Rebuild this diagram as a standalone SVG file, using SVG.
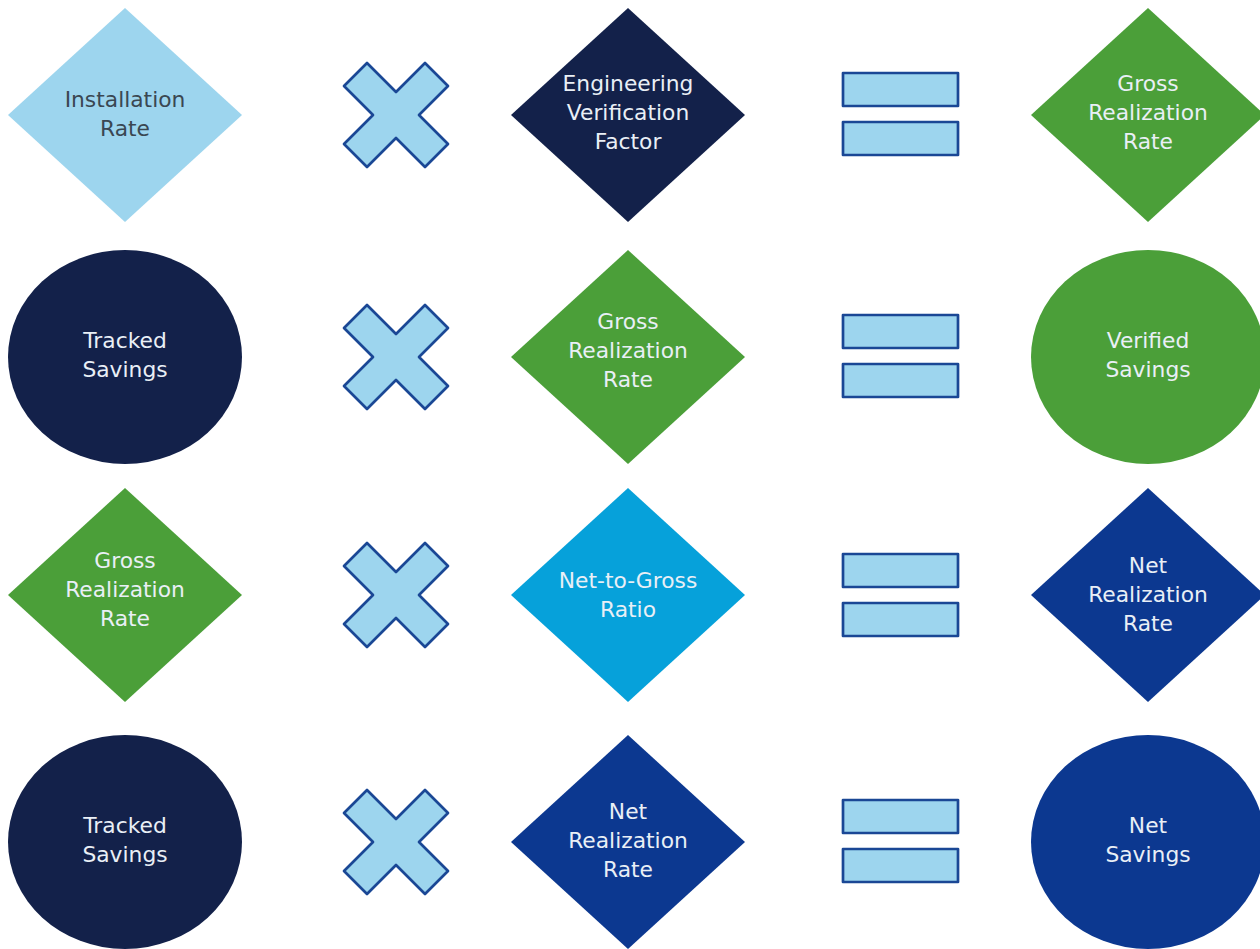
<svg xmlns="http://www.w3.org/2000/svg" width="1260" height="949" viewBox="0 0 1260 949">
<style>
text{font-family:"DejaVu Sans","Liberation Sans",sans-serif;font-size:21.8px;text-anchor:middle;fill:#e9eff6}
.dk{fill:#3a4752}
.lb{fill:#9dd5ee}
.nv{fill:#13214a}
.gr{fill:#4b9f39}
.cy{fill:#06a1da}
.bl{fill:#0c3890}
.op{fill:#9dd5ee;stroke:#1a4795;stroke-width:2.7;stroke-linejoin:round}
</style>
<defs>
<polygon id="dia" points="0,-107 117,0 0,107 -117,0"/>
<polygon id="times" points="0,-23 29,-52 52,-29 23,0 52,29 29,52 0,23 -29,52 -52,29 -23,0 -52,-29 -29,-52"/>
<g id="eq"><rect x="-57" y="-41" width="115" height="33"/><rect x="-57" y="8" width="115" height="33"/></g>
</defs>
<rect width="1260" height="949" fill="#ffffff"/>
<g id="connectors">
<use href="#times" class="op" x="396" y="115"/>
<use href="#times" class="op" x="396" y="357"/>
<use href="#times" class="op" x="396" y="595"/>
<use href="#times" class="op" x="396" y="842"/>
<use href="#eq" class="op" x="900" y="114"/>
<use href="#eq" class="op" x="900" y="356"/>
<use href="#eq" class="op" x="900" y="595"/>
<use href="#eq" class="op" x="900" y="841"/>
</g>
<g id="installation-rate"><use href="#dia" class="lb" x="125" y="115"/><text class="dk" x="125" y="107">Installation</text><text class="dk" x="125" y="136">Rate</text></g>
<g id="engineering-verification-factor"><use href="#dia" class="nv" x="628" y="115"/><text x="628" y="91">Engineering</text><text x="628" y="120">Verification</text><text x="628" y="149">Factor</text></g>
<g id="gross-realization-rate-1"><use href="#dia" class="gr" x="1148" y="115"/><text x="1148" y="91">Gross</text><text x="1148" y="120">Realization</text><text x="1148" y="149">Rate</text></g>
<g id="tracked-savings-1"><ellipse class="nv" cx="125" cy="357" rx="117" ry="107"/><text x="125" y="348">Tracked</text><text x="125" y="377">Savings</text></g>
<g id="gross-realization-rate-2"><use href="#dia" class="gr" x="628" y="357"/><text x="628" y="329">Gross</text><text x="628" y="358">Realization</text><text x="628" y="387">Rate</text></g>
<g id="verified-savings"><ellipse class="gr" cx="1148" cy="357" rx="117" ry="107"/><text x="1148" y="348">Verified</text><text x="1148" y="377">Savings</text></g>
<g id="gross-realization-rate-3"><use href="#dia" class="gr" x="125" y="595"/><text x="125" y="568">Gross</text><text x="125" y="597">Realization</text><text x="125" y="626">Rate</text></g>
<g id="net-to-gross-ratio"><use href="#dia" class="cy" x="628" y="595"/><text x="628" y="588">Net-to-Gross</text><text x="628" y="617">Ratio</text></g>
<g id="net-realization-rate-1"><use href="#dia" class="bl" x="1148" y="595"/><text x="1148" y="573">Net</text><text x="1148" y="602">Realization</text><text x="1148" y="631">Rate</text></g>
<g id="tracked-savings-2"><ellipse class="nv" cx="125" cy="842" rx="117" ry="107"/><text x="125" y="833">Tracked</text><text x="125" y="862">Savings</text></g>
<g id="net-realization-rate-2"><use href="#dia" class="bl" x="628" y="842"/><text x="628" y="819">Net</text><text x="628" y="848">Realization</text><text x="628" y="877">Rate</text></g>
<g id="net-savings"><ellipse class="bl" cx="1148" cy="842" rx="117" ry="107"/><text x="1148" y="833">Net</text><text x="1148" y="862">Savings</text></g>
</svg>
